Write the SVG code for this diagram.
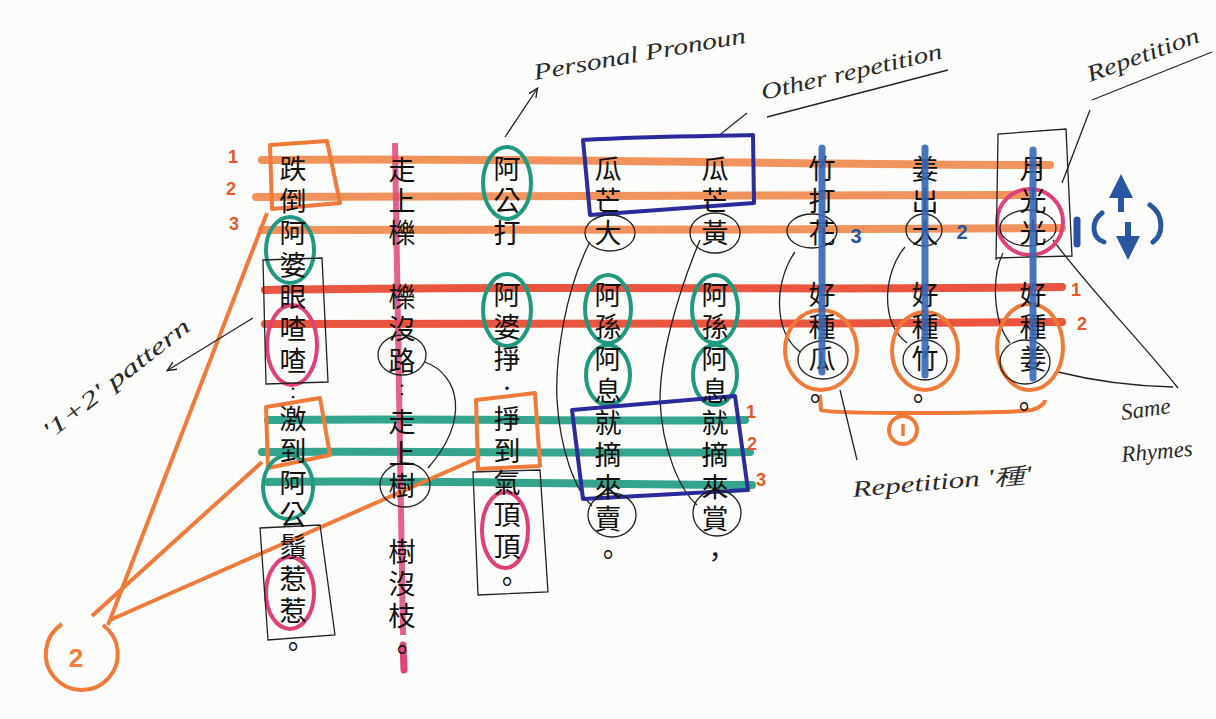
<svg xmlns="http://www.w3.org/2000/svg" width="1216" height="719" viewBox="0 0 1216 719">
<defs>
<style>
.c{font-family:"Noto Sans CJK TC","Noto Sans CJK SC",sans-serif;font-size:27px;fill:#111;text-anchor:middle;dominant-baseline:central}
.hw{font-family:"Liberation Serif",serif;font-style:italic;font-size:23px;fill:#2a2a2a}
.or{fill:none;stroke:#f0874a;stroke-width:8;stroke-linecap:round;opacity:.9}
.ob{fill:none;stroke:#f07a3a;stroke-width:4;stroke-linejoin:round}
.rd{fill:none;stroke:#e8432a;stroke-width:8;stroke-linecap:round;opacity:.9}
.tl{fill:none;stroke:#1f9a80;stroke-width:8;stroke-linecap:round;opacity:.9}
.tc{fill:none;stroke:#1f9a80;stroke-width:4}
.pk{fill:none;stroke:#e0407a;stroke-width:4}
.bv{fill:none;stroke:#3566b5;stroke-width:7;stroke-linecap:round;opacity:.9}
.db{fill:none;stroke:#2b2b9c;stroke-width:4;stroke-linejoin:round}
.pen{fill:none;stroke:#222;stroke-width:1.3}
.on{font-family:"Liberation Sans",sans-serif;font-weight:bold;font-size:18px;fill:#e8562a;text-anchor:middle}
.bn{font-family:"Liberation Sans",sans-serif;font-weight:bold;font-size:20px;fill:#2a55a0;text-anchor:middle}
</style>
<marker id="ah" viewBox="0 0 10 10" refX="8" refY="5" markerWidth="8" markerHeight="8" orient="auto-start-reverse"><path d="M0,1 L9,5 L0,9" fill="none" stroke="#222" stroke-width="1.3"/></marker>
<marker id="bh" viewBox="0 0 10 10" refX="5" refY="5" markerWidth="4" markerHeight="4" orient="auto"><path d="M0,0 L10,5 L0,10 Z" fill="#2a55a0"/></marker>
</defs>
<rect width="1216" height="719" fill="#fcfcfa"/>

<g id="connectors">
<path class="or" d="M262,160 C500,157 800,165 1050,165"/>
<path class="or" d="M256,197 C500,194 800,198 1028,195"/>
<path class="or" d="M262,230 C500,228 800,231 1062,228"/>
<path class="rd" d="M265,290 C600,285 800,291 1062,287"/>
<path class="rd" d="M265,324 C600,322 800,325 1062,322"/>
<path class="tl" d="M268,420 C450,418 600,422 745,420"/>
<path class="tl" d="M262,452 C450,451 600,454 750,452"/>
<path class="tl" d="M268,482 C450,480 600,485 752,485"/>
<path d="M395,143 L403,635" fill="none" stroke="#e0457a" stroke-width="6" opacity=".85"/>
<path d="M403,645 L404,670" fill="none" stroke="#e0457a" stroke-width="7" stroke-linecap="round"/>
<path class="ob" d="M108,625 L267,213" stroke-width="3"/>
<path class="ob" d="M92,616 L262,462" stroke-width="3"/>
<path class="ob" d="M110,620 L480,457" stroke-width="3"/>
<path class="ob" d="M62,624 A36,36 0 1 0 103,625" stroke-width="3.5"/>
<text x="76" y="667" font-family="Liberation Sans,sans-serif" font-weight="bold" font-size="26" fill="#f07a3a" text-anchor="middle">2</text>
<path class="ob" d="M820,395 L821,410 C830,414 1000,414 1032,410 C1040,408 1045,403 1045,400"/>
<circle cx="903" cy="430" r="14" class="ob" stroke-width="3.5"/>
<path d="M903,424 L903,436" stroke="#f07a3a" stroke-width="3.5" fill="none"/>
<path class="pen" d="M590,242 C565,290 555,360 557,400 C560,450 575,490 592,506"/>
<path class="pen" d="M700,240 C675,300 660,360 660,400 C662,450 680,490 697,505"/>
<path class="pen" d="M795,252 C775,280 772,330 800,352"/>
<path class="pen" d="M905,247 C885,270 878,320 907,343"/>
<path class="pen" d="M1003,253 C992,275 992,320 1010,343"/>
<path class="pen" d="M425,362 C460,375 470,420 428,468"/>
<path class="pen" d="M1053,240 C1090,290 1140,340 1178,388"/>
<path class="pen" d="M1058,372 C1090,380 1130,386 1173,387"/>
<path class="pen" d="M840,390 L857,460"/>
<path class="pen" d="M505,137 L537,89" marker-end="url(#ah)"/>
<path class="pen" d="M717,137 L747,113"/>
<path class="pen" d="M1090,110 L1062,183"/>
<path class="pen" d="M253,318 L168,370" marker-end="url(#ah)"/>
<path class="pen" d="M767,117 L948,70"/>
<path class="pen" d="M1092,100 L1212,52"/>
</g>

<g id="marks">
<path class="ob" d="M270,145 L327,141 L340,203 L272,209 Z"/>
<path class="ob" d="M266,407 L320,398 L330,455 L268,468 Z"/>
<path class="ob" d="M476,400 L535,393 L540,466 L478,469 Z"/>
<ellipse cx="821" cy="350" rx="36" ry="40" class="ob"/>
<ellipse cx="925" cy="351" rx="33" ry="39" class="ob"/>
<ellipse cx="1030" cy="347" rx="33" ry="43" class="ob"/>
<ellipse cx="290" cy="250" rx="24" ry="33" class="tc"/>
<ellipse cx="288" cy="487" rx="25" ry="32" class="tc"/>
<ellipse cx="507" cy="183" rx="24" ry="36" class="tc"/>
<ellipse cx="507" cy="310" rx="24" ry="36" class="tc"/>
<ellipse cx="608" cy="309" rx="23" ry="34" class="tc"/>
<ellipse cx="608" cy="375" rx="22" ry="30" class="tc"/>
<ellipse cx="715" cy="309" rx="23" ry="34" class="tc"/>
<ellipse cx="715" cy="375" rx="22" ry="30" class="tc"/>
<ellipse cx="292" cy="345" rx="25" ry="40" class="pk"/>
<ellipse cx="290" cy="593" rx="24" ry="36" class="pk"/>
<ellipse cx="505" cy="530" rx="23" ry="38" class="pk"/>
<ellipse cx="1030" cy="222" rx="33" ry="33" class="pk"/>
<path class="db" d="M583,140 C650,136 720,136 753,135 L754,203 L590,215 Z"/>
<path class="db" d="M572,410 L735,396 L748,490 L583,499 Z"/>
<path class="pen" d="M263,260 L322,258 L328,382 L266,384 Z"/>
<path class="pen" d="M260,528 L320,525 L335,635 L268,640 Z"/>
<path class="pen" d="M473,472 L540,470 L548,592 L478,595 Z"/>
<path class="pen" d="M996,260 L998,134 L1066,129 C1068,170 1070,220 1072,256 L996,258"/>
<ellipse cx="402" cy="355" rx="24" ry="20" class="pen"/>
<ellipse cx="405" cy="485" rx="25" ry="22" class="pen"/>
<ellipse cx="610" cy="233" rx="25" ry="18" class="pen"/>
<ellipse cx="715" cy="233" rx="25" ry="20" class="pen"/>
<ellipse cx="612" cy="515" rx="24" ry="22" class="pen"/>
<ellipse cx="717" cy="513" rx="24" ry="23" class="pen"/>
<ellipse cx="812" cy="231" rx="25" ry="17" class="pen"/>
<ellipse cx="924" cy="230" rx="18" ry="16" class="pen"/>
<ellipse cx="1028" cy="228" rx="28" ry="18" class="pen"/>
<ellipse cx="823" cy="360" rx="25" ry="19" class="pen"/>
<ellipse cx="925" cy="360" rx="22" ry="20" class="pen"/>
<ellipse cx="1025" cy="362" rx="25" ry="22" class="pen"/>
</g>

<g id="col1"><text class="c"><tspan x="293" y="167">跌</tspan><tspan x="293" y="199">倒</tspan><tspan x="293" y="231">阿</tspan><tspan x="293" y="263">婆</tspan><tspan x="293" y="295">眼</tspan><tspan x="293" y="327">喳</tspan><tspan x="293" y="359">喳</tspan><tspan x="293" y="392" font-size="16">：</tspan><tspan x="293" y="417">激</tspan><tspan x="293" y="449">到</tspan><tspan x="293" y="481">阿</tspan><tspan x="293" y="513">公</tspan><tspan x="293" y="545">鬚</tspan><tspan x="293" y="577">惹</tspan><tspan x="293" y="609">惹</tspan><tspan x="293" y="645">。</tspan></text></g>
<g id="col2"><text class="c"><tspan x="402" y="168">走</tspan><tspan x="402" y="199">上</tspan><tspan x="402" y="231">櫟</tspan><tspan x="402" y="295">櫟</tspan><tspan x="402" y="327">沒</tspan><tspan x="402" y="359">路</tspan><tspan x="402" y="389" font-size="16">：</tspan><tspan x="402" y="420">走</tspan><tspan x="402" y="452">上</tspan><tspan x="402" y="484">樹</tspan><tspan x="402" y="550">樹</tspan><tspan x="402" y="582">沒</tspan><tspan x="402" y="614">枝</tspan><tspan x="402" y="648">。</tspan></text></g>
<g id="col3"><text class="c"><tspan x="507" y="167">阿</tspan><tspan x="507" y="199">公</tspan><tspan x="507" y="231">打</tspan><tspan x="507" y="293">阿</tspan><tspan x="507" y="325">婆</tspan><tspan x="507" y="357">掙</tspan><tspan x="507" y="387" font-size="16">·</tspan><tspan x="507" y="417">掙</tspan><tspan x="507" y="449">到</tspan><tspan x="507" y="481">氣</tspan><tspan x="507" y="513">頂</tspan><tspan x="507" y="545">頂</tspan><tspan x="507" y="580">。</tspan></text></g>
<g id="col4"><text class="c"><tspan x="608" y="167">瓜</tspan><tspan x="608" y="199">芒</tspan><tspan x="608" y="231">大</tspan><tspan x="608" y="293">阿</tspan><tspan x="608" y="325">孫</tspan><tspan x="608" y="357">阿</tspan><tspan x="608" y="389">息</tspan><tspan x="608" y="421">就</tspan><tspan x="608" y="453">摘</tspan><tspan x="608" y="485">來</tspan><tspan x="608" y="517">賣</tspan><tspan x="608" y="553">。</tspan></text></g>
<g id="col5"><text class="c"><tspan x="715" y="167">瓜</tspan><tspan x="715" y="199">芒</tspan><tspan x="715" y="231">黃</tspan><tspan x="715" y="293">阿</tspan><tspan x="715" y="325">孫</tspan><tspan x="715" y="357">阿</tspan><tspan x="715" y="389">息</tspan><tspan x="715" y="421">就</tspan><tspan x="715" y="453">摘</tspan><tspan x="715" y="485">來</tspan><tspan x="715" y="517">賞</tspan><tspan x="715" y="555">，</tspan></text></g>
<g id="col6"><text class="c"><tspan x="822" y="167">竹</tspan><tspan x="822" y="199">打</tspan><tspan x="822" y="231">花</tspan><tspan x="822" y="293">好</tspan><tspan x="822" y="325">種</tspan><tspan x="822" y="357">瓜</tspan><tspan x="815" y="397">。</tspan></text></g>
<g id="col7"><text class="c"><tspan x="925" y="167">姜</tspan><tspan x="925" y="199">出</tspan><tspan x="925" y="231">大</tspan><tspan x="925" y="293">好</tspan><tspan x="925" y="325">種</tspan><tspan x="925" y="357">竹</tspan><tspan x="918" y="397">。</tspan></text></g>
<g id="col8"><text class="c"><tspan x="1033" y="167">月</tspan><tspan x="1033" y="199">光</tspan><tspan x="1033" y="231">光</tspan><tspan x="1033" y="293">好</tspan><tspan x="1033" y="325">種</tspan><tspan x="1033" y="357">姜</tspan><tspan x="1024" y="405">。</tspan></text></g>

<g id="bluelines">
<path class="bv" d="M822,148 L822,372"/>
<path class="bv" d="M925,148 L925,375"/>
<path class="bv" d="M1033,150 L1033,378"/>
</g>

<g id="numbers">
<text class="on" x="233" y="163">1</text>
<text class="on" x="231" y="195">2</text>
<text class="on" x="234" y="230">3</text>
<text class="on" x="1076" y="296" fill="#e8432a">1</text>
<text class="on" x="1082" y="330" fill="#e8432a">2</text>
<text class="on" x="751" y="418" fill="#1f9a80">1</text>
<text class="on" x="752" y="450" fill="#1f9a80">2</text>
<text class="on" x="761" y="486" fill="#1f9a80">3</text>
<text class="bn" x="856" y="243">3</text>
<text class="bn" x="962" y="239">2</text>
<path d="M1077,220 L1077,244" stroke="#2a55a0" stroke-width="7" stroke-linecap="round"/>
<path d="M1102,213 C1090,222 1092,238 1104,242" fill="none" stroke="#2a55a0" stroke-width="5" stroke-linecap="round"/>
<path d="M1121,212 L1121,186" stroke="#2a55a0" stroke-width="6" marker-end="url(#bh)"/>
<path d="M1128,222 L1128,248" stroke="#2a55a0" stroke-width="6" marker-end="url(#bh)"/>
<path d="M1150,205 C1165,215 1163,235 1153,242" fill="none" stroke="#2a55a0" stroke-width="5" stroke-linecap="round"/>
</g>

<g id="labels">
<text class="hw" transform="translate(535,80) rotate(-10)" textLength="215" lengthAdjust="spacingAndGlyphs">Personal Pronoun</text>
<text class="hw" transform="translate(763,100) rotate(-13)" textLength="185" lengthAdjust="spacingAndGlyphs">Other repetition</text>
<text class="hw" transform="translate(1090,82) rotate(-20)" textLength="118" lengthAdjust="spacingAndGlyphs">Repetition</text>
<text class="hw" transform="translate(50,440) rotate(-38)" textLength="180" lengthAdjust="spacingAndGlyphs">'1+2' pattern</text>
<text class="hw" transform="translate(853,497) rotate(-5)" textLength="180" lengthAdjust="spacingAndGlyphs">Repetition '種'</text>
<text class="hw" transform="translate(1122,420) rotate(-8)">Same</text>
<text class="hw" transform="translate(1122,462) rotate(-5)">Rhymes</text>
</g>
</svg>
